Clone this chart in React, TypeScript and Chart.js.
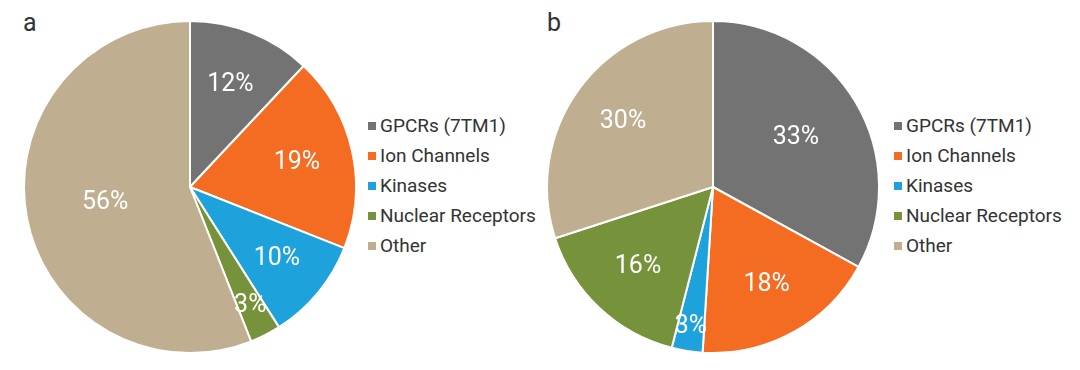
import React, { useEffect, useRef } from "react";
import { Chart, registerables } from "chart.js";

Chart.register(...registerables);

const categories = ["GPCRs (7TM1)", "Ion Channels", "Kinases", "Nuclear Receptors", "Other"];
const valuesA = [12, 19, 10, 3, 56];
const valuesB = [33, 18, 3, 16, 30];
const colors = ["#737373", "#F36C21", "#1DA2DC", "#76933C", "#BFAE90"];
// radial position of each percentage label, as a fraction of the radius
const labelRadiusA = [0.66, 0.66, 0.68, 0.8, 0.52];
const labelRadiusB = [0.58, 0.67, 0.85, 0.66, 0.67];

const FONT = "Roboto, 'Noto Sans', sans-serif";

const pctLabelPlugin = {
  id: "pctLabels",
  afterDatasetsDraw(chart: any, _args: any, opts: any) {
    const ctx = chart.ctx;
    const meta = chart.getDatasetMeta(0);
    const data = chart.data.datasets[0].data as number[];
    const radii: number[] = opts.radii || [];
    ctx.save();
    ctx.fillStyle = "#ffffff";
    ctx.font = `25px ${FONT}`;
    ctx.textAlign = "center";
    ctx.textBaseline = "middle";
    meta.data.forEach((arc: any, i: number) => {
      const p = arc.getProps(["x", "y", "startAngle", "endAngle", "outerRadius"], true);
      const mid = (p.startAngle + p.endAngle) / 2;
      const r = p.outerRadius * (radii[i] ?? 0.62);
      ctx.fillText(`${data[i]}%`, p.x + Math.cos(mid) * r, p.y + Math.sin(mid) * r);
    });
    ctx.restore();
  },
};

function PieChart({ values, radii, left }: { values: number[]; radii: number[]; left: number }) {
  const ref = useRef<HTMLCanvasElement | null>(null);
  useEffect(() => {
    if (!ref.current) return;
    const chart = new Chart(ref.current, {
      type: "pie",
      data: {
        labels: categories,
        datasets: [
          {
            data: values,
            backgroundColor: colors,
            borderColor: "#ffffff",
            borderWidth: 2,
          },
        ],
      },
      options: {
        animation: false,
        responsive: false,
        maintainAspectRatio: false,
        layout: { padding: 0 },
        plugins: {
          legend: { display: false },
          tooltip: { enabled: false },
          pctLabels: { radii },
        } as any,
      },
      plugins: [pctLabelPlugin],
    });
    return () => chart.destroy();
  }, []);
  return (
    <canvas
      ref={ref}
      width={334}
      height={334}
      style={{ position: "absolute", left, top: 20, width: 334, height: 334 }}
    />
  );
}

function Legend({ left }: { left: number }) {
  return (
    <div style={{ position: "absolute", left, top: 111, fontFamily: FONT, fontSize: 19, color: "#333333" }}>
      {categories.map((c, i) => (
        <div key={c} style={{ height: 30, lineHeight: "30px", display: "flex", alignItems: "center" }}>
          <span
            style={{ width: 8, height: 8, background: colors[i], display: "inline-block", marginRight: 4 }}
          />
          <span>{c}</span>
        </div>
      ))}
    </div>
  );
}

export default function App() {
  return (
    <div
      style={{
        position: "fixed",
        left: 0,
        top: 0,
        width: 1080,
        height: 370,
        background: "#ffffff",
        overflow: "hidden",
      }}
    >
      <div style={{ position: "absolute", left: 23, top: 8, fontFamily: FONT, fontSize: 25, color: "#333333" }}>a</div>
      <div style={{ position: "absolute", left: 547, top: 8, fontFamily: FONT, fontSize: 25, color: "#333333" }}>b</div>
      <PieChart values={valuesA} radii={labelRadiusA} left={23} />
      <Legend left={368} />
      <PieChart values={valuesB} radii={labelRadiusB} left={546} />
      <Legend left={894} />
    </div>
  );
}
